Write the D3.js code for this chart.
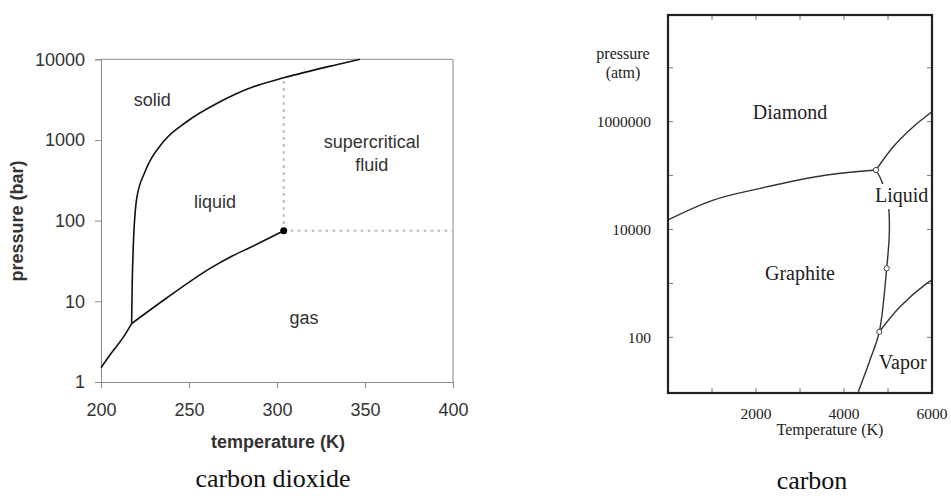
<!DOCTYPE html>
<html>
<head>
<meta charset="utf-8">
<script src="https://cdn.jsdelivr.net/npm/d3@7"></script>
<style>
  body { margin: 0; background: #fff; }
</style>
</head>
<body>
<svg id="chart" width="951" height="496"></svg>
<script>
// ---- carbon dioxide: T in K, p in bar ----
const co2Sublimation = [[200, 1.5], [206, 2.3], [212.7, 3.6], [217.4, 5.3]];
const co2Vaporization = [[217.4, 5.3], [237.3, 11], [262, 25.6], [274, 36], [284.7, 46.5], [303.8, 75]];
const co2Melting = [[217.4, 5.3], [217.7, 15], [218.3, 45], [220.3, 189], [225, 404], [235.4, 950],
  [248.7, 1683], [267.6, 2972], [286.5, 4560], [303.8, 5900], [332, 8400], [347.2, 10000]];
const co2Critical = [303.8, 75];
const co2CriticalTop = 5900;
const co2XTicks = [200, 250, 300, 350, 400];
const co2YTicks = [1, 10, 100, 1000, 10000];
const co2Regions = [
  { text: "solid", T: 229.1, p: 3185 },
  { text: "liquid", T: 264.8, p: 171 },
  { text: "supercritical", T: 353.8, p: 950 },
  { text: "fluid", T: 353.8, p: 489 },
  { text: "gas", T: 315.3, p: 6.3 }
];

// ---- carbon: T in K, p in atm ----
const cGraphiteDiamond = [[0, 15100], [1030, 35200], [2091, 58000], [3607, 102600], [4727, 127000]];
const cDiamondLiquid = [[4727, 127000], [5120, 343000], [5575, 807000], [6000, 1530000]];
const cGraphiteLiquid = [[4727, 127000], [4864, 77100], [5007, 28500], [5030, 8500], [4970, 1905],
  [4802, 127], [4591, 38], [4325, 9.8]];
const cLiquidVapor = [[4802, 127], [5273, 370], [5880, 1005], [6000, 1156]];
const cTriplePoints = [[4727, 127000], [4970, 1905], [4802, 127]];
const cXTicks = [1000, 2000, 3000, 4000, 5000];
const cXLabels = [2000, 4000, 6000];
const cYTicks = [100, 1000, 10000, 100000, 1000000, 10000000];
const cYLabels = [100, 10000, 1000000];
const cRegions = [
  { text: "Diamond", T: 2773, p: 1490000 },
  { text: "Graphite", T: 3000, p: 1540 },
  { text: "Liquid", T: 5311, p: 43600 },
  { text: "Vapor", T: 5334, p: 35 }
];

const svg = d3.select("#chart");
const sans = "'Liberation Sans', Arial, sans-serif";
const serif = "'Liberation Serif', 'Times New Roman', serif";

// ================= left: carbon dioxide =================
{
  const x = d3.scaleLinear([200, 400], [101, 453]);
  const y = d3.scaleLog([1, 10000], [382, 59.3]);
  const g = svg.append("g");
  const line = d3.line(d => x(d[0]), d => y(d[1])).curve(d3.curveMonotoneX);

  // frame top/right
  g.append("path")
    .attr("d", `M${x(200)},${y(10000)}H${x(400)}V${y(1)}`)
    .attr("fill", "none").attr("stroke", "#8a8a8a");

  const yAxis = g.append("g").attr("transform", `translate(${x(200)},0)`)
    .call(d3.axisLeft(y).tickValues(co2YTicks).tickFormat(d3.format("d")).tickSize(6).tickPadding(10));
  const xAxis = g.append("g").attr("transform", `translate(0,${y(1)})`)
    .call(d3.axisBottom(x).tickValues(co2XTicks).tickSize(6).tickPadding(15));
  [xAxis, yAxis].forEach(a => {
    a.selectAll("path, line").attr("stroke", "#8a8a8a");
    a.selectAll("text").attr("font-family", sans).attr("font-size", 18).attr("fill", "#333");
  });

  // dotted critical lines
  g.append("path")
    .attr("d", `M${x(co2Critical[0])},${y(co2Critical[1])}V${y(co2CriticalTop)}M${x(co2Critical[0])},${y(co2Critical[1])}H${x(400)}`)
    .attr("fill", "none").attr("stroke", "#b5b5b5").attr("stroke-width", 2).attr("stroke-dasharray", "2.5,4.5");

  [co2Sublimation, co2Vaporization, co2Melting].forEach(d => {
    g.append("path").attr("d", line(d))
      .attr("fill", "none").attr("stroke", "#111").attr("stroke-width", 1.6);
  });

  g.append("circle").attr("cx", x(co2Critical[0])).attr("cy", y(co2Critical[1])).attr("r", 3.5).attr("fill", "#000");

  g.selectAll("text.region").data(co2Regions).join("text")
    .attr("class", "region")
    .attr("x", d => x(d.T)).attr("y", d => y(d.p)).attr("dy", "0.35em")
    .attr("text-anchor", "middle")
    .attr("font-family", sans).attr("font-size", 18).attr("fill", "#333")
    .text(d => d.text);

  g.append("text")
    .attr("x", 278).attr("y", 448).attr("text-anchor", "middle")
    .attr("font-family", sans).attr("font-size", 18).attr("font-weight", "bold").attr("fill", "#333")
    .text("temperature (K)");
  g.append("text")
    .attr("transform", "translate(23,221) rotate(-90)").attr("text-anchor", "middle")
    .attr("font-family", sans).attr("font-size", 18).attr("font-weight", "bold").attr("fill", "#333")
    .text("pressure (bar)");

  g.append("text")
    .attr("x", 273).attr("y", 487).attr("text-anchor", "middle")
    .attr("font-family", serif).attr("font-size", 26).attr("fill", "#111")
    .text("carbon dioxide");
}

// ================= right: carbon =================
{
  const x = d3.scaleLinear([0, 6000], [668, 932]);
  const y = d3.scaleLog([9.3, 9.5e7], [393, 15]);
  const g = svg.append("g");
  const line = d3.line(d => x(d[0]), d => y(d[1])).curve(d3.curveCatmullRom);
  const [x0, x1] = x.range();
  const [y0, y1] = y.range();

  // inward ticks on all sides
  const tk = 5;
  g.selectAll("line.xt").data(cXTicks).join("line").attr("class", "xt")
    .attr("x1", d => x(d)).attr("x2", d => x(d)).attr("y1", y0).attr("y2", y0 - tk)
    .attr("stroke", "#777");
  g.selectAll("line.xt2").data(cXTicks).join("line").attr("class", "xt2")
    .attr("x1", d => x(d)).attr("x2", d => x(d)).attr("y1", y1).attr("y2", y1 + tk)
    .attr("stroke", "#777");
  g.selectAll("line.yt").data(cYTicks).join("line").attr("class", "yt")
    .attr("x1", x0).attr("x2", x0 + tk).attr("y1", d => y(d)).attr("y2", d => y(d))
    .attr("stroke", "#777");
  g.selectAll("line.yt2").data(cYTicks).join("line").attr("class", "yt2")
    .attr("x1", x1).attr("x2", x1 - tk).attr("y1", d => y(d)).attr("y2", d => y(d))
    .attr("stroke", "#777");

  g.selectAll("text.xl").data(cXLabels).join("text").attr("class", "xl")
    .attr("x", d => x(d)).attr("y", 419).attr("text-anchor", "middle")
    .attr("font-family", serif).attr("font-size", 15.5).attr("fill", "#222")
    .text(d => d);
  g.selectAll("text.yl").data(cYLabels).join("text").attr("class", "yl")
    .attr("x", 651).attr("y", d => y(d)).attr("dy", "0.35em").attr("text-anchor", "end")
    .attr("font-family", serif).attr("font-size", 15.5).attr("fill", "#222")
    .text(d => d);

  [cGraphiteDiamond, cDiamondLiquid, cGraphiteLiquid, cLiquidVapor].forEach(d => {
    g.append("path").attr("d", line(d))
      .attr("fill", "none").attr("stroke", "#333").attr("stroke-width", 1.4);
  });

  g.selectAll("circle").data(cTriplePoints).join("circle")
    .attr("cx", d => x(d[0])).attr("cy", d => y(d[1])).attr("r", 2.6)
    .attr("fill", "#fff").attr("stroke", "#444").attr("stroke-width", 1);

  const labels = g.selectAll("text.region").data(cRegions).join("text")
    .attr("class", "region")
    .attr("x", d => x(d.T)).attr("y", d => y(d.p)).attr("dy", "0.35em")
    .attr("text-anchor", "middle")
    .attr("font-family", serif).attr("font-size", 20).attr("fill", "#222")
    .text(d => d.text);

  // white backing under "Liquid" so the boundary line breaks around it
  labels.filter(d => d.text === "Liquid").each(function() {
    const b = this.getBBox();
    g.insert("rect", "text.region")
      .attr("x", b.x - 1).attr("y", b.y).attr("width", b.width + 1).attr("height", b.height + 2)
      .attr("fill", "#fff");
  });

  g.append("rect")
    .attr("x", x0).attr("y", y1).attr("width", x1 - x0).attr("height", y0 - y1)
    .attr("fill", "none").attr("stroke", "#222").attr("stroke-width", 2.2);

  g.append("text")
    .attr("x", 830).attr("y", 435).attr("text-anchor", "middle")
    .attr("font-family", serif).attr("font-size", 16).attr("fill", "#222")
    .text("Temperature (K)");
  g.append("text")
    .attr("x", 623).attr("y", 59).attr("text-anchor", "middle")
    .attr("font-family", serif).attr("font-size", 16).attr("fill", "#222")
    .text("pressure");
  g.append("text")
    .attr("x", 623).attr("y", 78).attr("text-anchor", "middle")
    .attr("font-family", serif).attr("font-size", 16).attr("fill", "#222")
    .text("(atm)");

  g.append("text")
    .attr("x", 812).attr("y", 489).attr("text-anchor", "middle")
    .attr("font-family", serif).attr("font-size", 26).attr("fill", "#111")
    .text("carbon");
}
</script>
</body>
</html>
